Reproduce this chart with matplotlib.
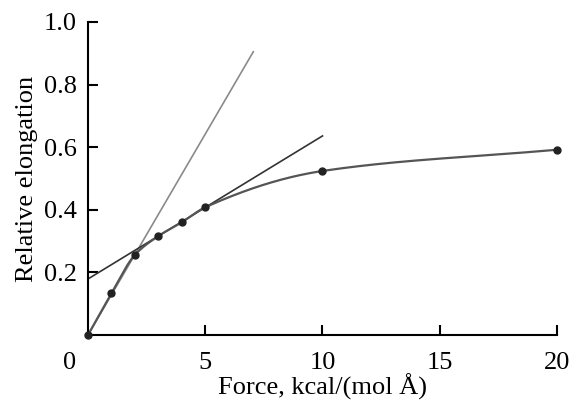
import matplotlib
matplotlib.use('Agg')
import matplotlib.pyplot as plt
import numpy as np

plt.rcParams['font.family'] = ['Liberation Serif', 'DejaVu Serif']

# measured points
force = np.array([0.0, 1.0, 2.0, 3.0, 4.0, 5.0, 10.0, 20.0])
elong = np.array([0.0, 0.133, 0.256, 0.316, 0.36, 0.408, 0.524, 0.592])

# tangent lines (start x, start y, end x, end y)
steep_x = [0.0, 7.05]
steep_y = [0.0, 0.905]
shallow_x = [0.0, 10.0]
shallow_y = [0.179, 0.636]


def pchip(x, y, xs):
    # monotone cubic (Fritsch-Carlson), just for drawing a smooth curve
    h = np.diff(x)
    d = np.diff(y) / h
    m = np.zeros_like(y)
    m[0], m[-1] = d[0], d[-1]
    for i in range(1, len(x) - 1):
        if d[i - 1] * d[i] > 0:
            w1 = 2 * h[i] + h[i - 1]
            w2 = h[i] + 2 * h[i - 1]
            m[i] = (w1 + w2) / (w1 / d[i - 1] + w2 / d[i])
    idx = np.clip(np.searchsorted(x, xs) - 1, 0, len(x) - 2)
    t = (xs - x[idx]) / h[idx]
    h00 = 2 * t**3 - 3 * t**2 + 1
    h10 = t**3 - 2 * t**2 + t
    h01 = -2 * t**3 + 3 * t**2
    h11 = t**3 - t**2
    return (h00 * y[idx] + h10 * h[idx] * m[idx]
            + h01 * y[idx + 1] + h11 * h[idx] * m[idx + 1])


fig = plt.figure(figsize=(5.72, 4.0), dpi=100)
ax = fig.add_axes([0.1538, 0.1625, 0.82, 0.7825])

xs = np.linspace(force.min(), force.max(), 400)
ax.plot(steep_x, steep_y, color='#8a8a8a', lw=1.2, clip_on=False)
ax.plot(shallow_x, shallow_y, color='#333333', lw=1.2, clip_on=False)
ax.plot(xs, pchip(force, elong, xs), color='#555555', lw=1.6, clip_on=False)
ax.plot(force, elong, 'o', color='#222222', ms=5, clip_on=False, zorder=5)

ax.set_xlim(0, 20)
ax.set_ylim(0, 1.0)
ax.set_xticks([5, 10, 15, 20])
ax.set_yticks([0.2, 0.4, 0.6, 0.8, 1.0])
ax.set_yticklabels(['0.2', '0.4', '0.6', '0.8', '1.0'])
ax.annotate('0', xy=(0, 0), xycoords=('data', 'axes fraction'),
            xytext=(-13, -12.5), textcoords='offset points',
            ha='center', va='top', fontsize=19)

for s in ['top', 'right']:
    ax.spines[s].set_visible(False)
for s in ['left', 'bottom']:
    ax.spines[s].set_linewidth(1.5)
ax.tick_params(direction='in', length=7, width=1.5, labelsize=19)
ax.tick_params(axis='x', pad=12.5)
ax.tick_params(axis='y', pad=8)

ax.set_xlabel('Force, kcal/(mol Å)', fontsize=19, labelpad=-0.5)
ax.set_ylabel('Relative elongation', fontsize=19, labelpad=4)

fig.savefig('out.png', dpi=100)
